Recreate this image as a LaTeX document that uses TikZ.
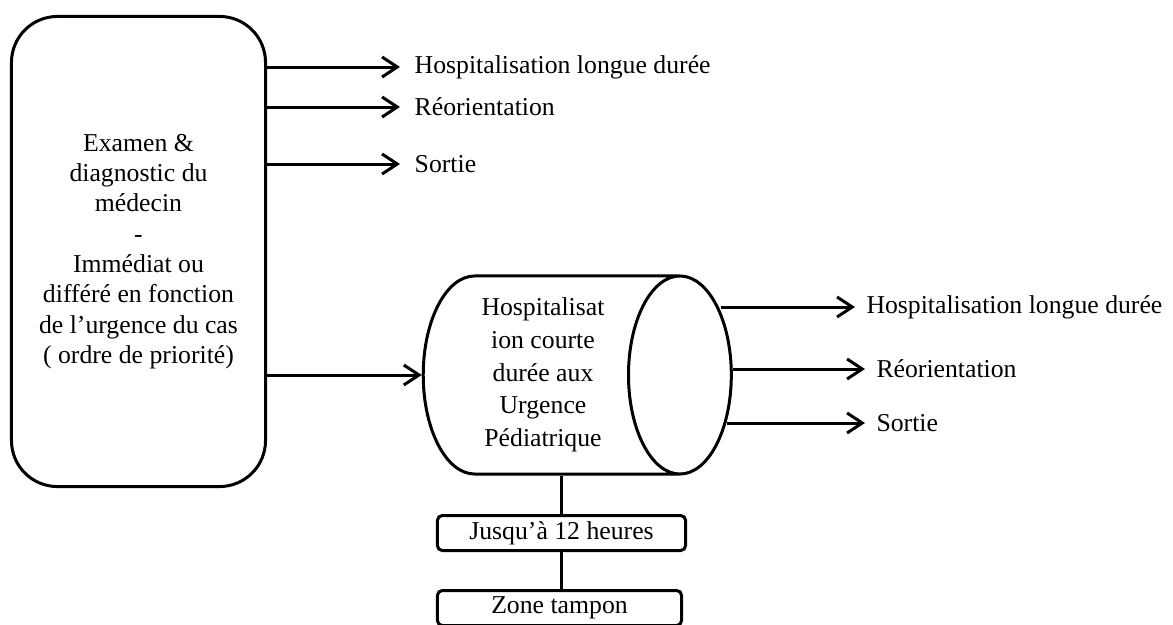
\documentclass[tikz,border=0pt]{standalone}
\usepackage{fontspec}
\setmainfont{Liberation Serif}
\usetikzlibrary{shapes.geometric, arrows.meta}

\begin{document}
\begin{tikzpicture}[x=0.025cm, y=-0.025cm, line width=0.075cm,
                    >={Straight Barb[length=0.38cm, width=0.5cm]},
                    font=\fontsize{18.3}{22}\selectfont,
                    outlbl/.style={anchor=west, inner xsep=0.33cm},
                    smallbox/.style={draw, rounded corners=0.12cm, minimum height=0.875cm}]
                    \useasboundingbox (0, 0) rectangle (1173, 625);

                    \node (EXAM) [draw, rounded corners=1.15cm, minimum width=6.35cm, minimum height=11.75cm, align=center, font=\fontsize{18.3}{21.6}\selectfont] at (138.5, 251.5) {Examen \&\\diagnostic du\\médecin\\-\\Immédiat ou\\différé en fonction\\de l’urgence du cas\\( ordre de priorité)};
                    \node (HCD) [cylinder, draw, shape aspect=0.63, minimum height=7.7cm, minimum width=4.95cm, align=center, font=\fontsize{18.3}{23.2}\selectfont] at (543, 375) {Hospitalisat\\ion courte\\durée aux\\Urgence\\Pédiatrique};
                    \node (JUSQ) [smallbox, minimum width=6.2cm] at (561.5, 533) {Jusqu’à 12 heures};
                    \node (ZT) [smallbox, minimum width=6.1cm] at (559.5, 608) {Zone tampon};

                    \node (HLD1) [outlbl] at (400, 67) {Hospitalisation longue durée};
                    \node (RE1) [outlbl] at (400, 107) {Réorientation};
                    \node (SO1) [outlbl] at (400, 164) {Sortie};
                    \node (HLD2) [outlbl, inner xsep=0.25cm] at (855, 307) {Hospitalisation longue durée};
                    \node (RE2) [outlbl, inner xsep=0.25cm] at (865, 369) {Réorientation};
                    \node (SO2) [outlbl, inner xsep=0.25cm] at (865, 423) {Sortie};

                    \draw (EXAM.east |- HLD1.west) edge[->] (HLD1.west);
                    \draw (EXAM.east |- RE1.west) edge[->] (RE1.west);
                    \draw (EXAM.east |- SO1.west) edge[->] (SO1.west);
                    \draw (EXAM.east |- HCD.west) edge[->] (HCD.west);
                    \draw (HCD.east |- HLD2.west) edge[->, shorten <=-0.3cm] (HLD2.west);
                    \draw (HCD.east |- RE2.west) edge[->] (RE2.west);
                    \draw (HCD.east |- SO2.west) edge[->, shorten <=-0.15cm] (SO2.west);
                    \draw (JUSQ.north) -- (JUSQ.north |- HCD.south);
                    \draw (JUSQ.south) -- (JUSQ.south |- ZT.north);
                \end{tikzpicture}
\end{document}
